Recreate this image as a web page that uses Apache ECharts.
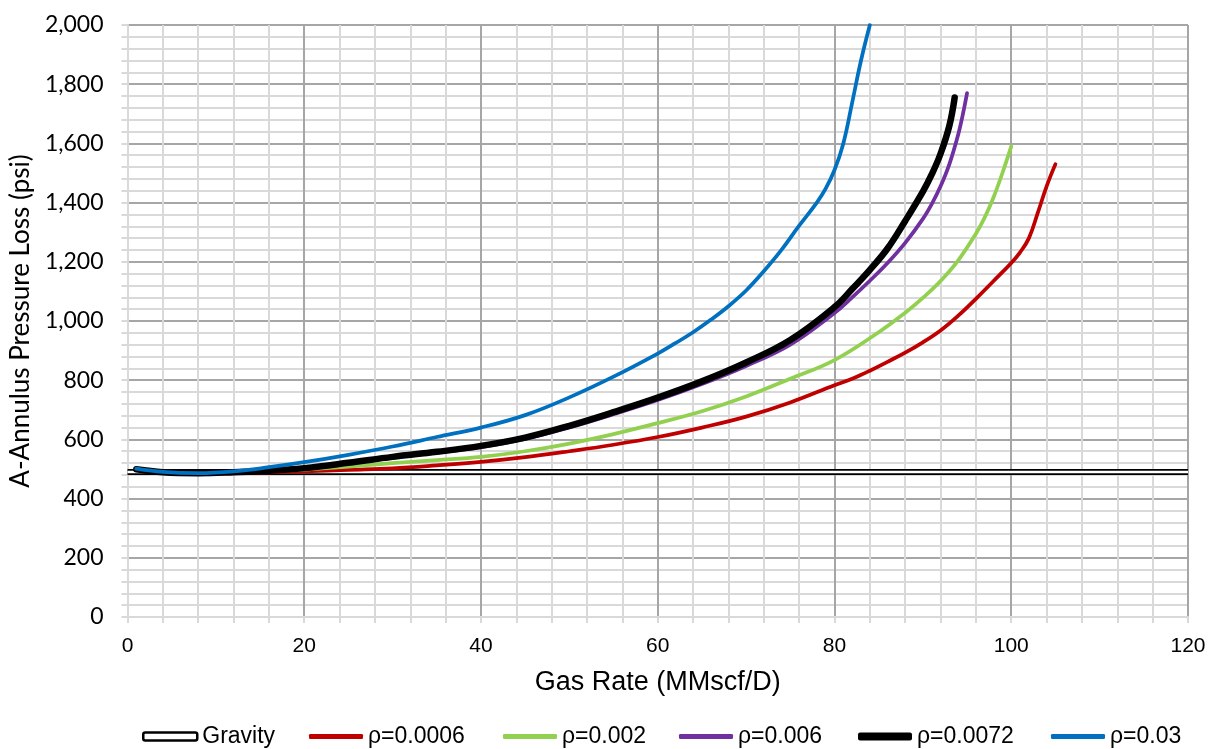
<!DOCTYPE html>
<html>
<head>
<meta charset="utf-8">
<script src="https://cdn.jsdelivr.net/npm/echarts@6/dist/echarts.min.js"></script>
<style>
  html, body { margin: 0; padding: 0; background: #ffffff; }
  #chart { width: 1209px; height: 749px; }
</style>
</head>
<body>
<div id="chart"></div>
<script>
// Axis ticks
const rateTicks = [0, 20, 40, 60, 80, 100, 120];
const lossTicks = [0, 200, 400, 600, 800, 1000, 1200, 1400, 1600, 1800, 2000];

// Gravity-only pressure loss (flat)
const gravityRate = [0, 120];
const gravityLoss = [490, 490];

// ρ = 0.0006
const rate0006 = [1, 4, 8, 12, 16, 20, 25, 30, 35, 40, 45, 50, 55, 60, 65, 70, 75, 80, 82, 84, 86, 88, 90, 92, 94, 96, 98, 100, 101, 102, 103, 104, 105];
const loss0006 = [498, 489, 486, 487, 489, 492, 497, 502, 512, 524, 540, 560, 582, 608, 640, 677, 725, 783, 805, 832, 862, 893, 928, 968, 1018, 1075, 1135, 1196, 1232, 1280, 1365, 1455, 1530];

// ρ = 0.002
const rate002 = [1, 4, 8, 12, 16, 20, 25, 30, 35, 40, 45, 50, 55, 60, 65, 70, 75, 80, 85, 88, 90, 92, 94, 96, 97, 98, 99, 100];
const loss002 = [498, 489, 486, 488, 492, 498, 508, 520, 530, 541, 560, 586, 618, 655, 695, 745, 805, 868, 962, 1028, 1078, 1135, 1205, 1295, 1350, 1418, 1500, 1590];

// ρ = 0.006
const rate006 = [1, 4, 8, 12, 16, 20, 25, 30, 35, 40, 45, 50, 55, 60, 65, 70, 75, 80, 82, 84, 86, 88, 90, 91, 92, 93, 94, 94.5, 95];
const loss006 = [498, 489, 486, 489, 494, 502, 519, 538, 555, 574, 602, 640, 685, 733, 787, 848, 920, 1027, 1080, 1136, 1196, 1264, 1345, 1395, 1455, 1530, 1630, 1695, 1770];

// ρ = 0.0072
const rate0072 = [1, 4, 8, 12, 16, 20, 25, 30, 35, 40, 45, 50, 55, 60, 65, 70, 75, 80, 82, 84, 86, 88, 90, 91, 92, 93, 93.6];
const loss0072 = [499, 489, 486, 489, 494, 503, 521, 541, 558, 578, 606, 646, 692, 741, 796, 860, 936, 1047, 1108, 1173, 1245, 1338, 1437, 1495, 1565, 1660, 1755];

// ρ = 0.03
const rate03 = [1, 4, 8, 12, 16, 20, 25, 30, 35, 40, 45, 50, 55, 60, 62, 64, 66, 68, 70, 72, 74, 76, 78, 79, 80, 81, 82, 83, 84];
const loss03 = [501, 490, 486, 492, 506, 523, 548, 576, 608, 640, 682, 742, 812, 890, 925, 962, 1004, 1050, 1103, 1168, 1240, 1322, 1400, 1447, 1510, 1600, 1738, 1880, 2000];

const colRed = '#C00000', colGreen = '#92D050', colPurple = '#7030A0', colBlack = '#000000', colBlue = '#0070C0';

function pairs(xs, ys) { return xs.map((x, i) => [x, ys[i]]); }

const chart = echarts.init(document.getElementById('chart'), null, { renderer: 'canvas' });

// first grid line sits on the axis and stays light, the rest are darker
const majorGridX = rateTicks.map((v, i) => i === 0 ? '#d9d9d9' : '#a6a6a6');
const majorGridY = lossTicks.map((v, i) => i === 0 ? '#d9d9d9' : '#a6a6a6');

function curve(name, xs, ys, color, width) {
  return {
    name: name, type: 'line', data: pairs(xs, ys),
    showSymbol: false, symbol: 'none', smooth: 0.4,
    lineStyle: { color: color, width: width, cap: 'round', join: 'round' },
    itemStyle: { color: color }
  };
}

function legendAt(left, name, icon, height, style) {
  return {
    left: left, top: 725, padding: 0, itemWidth: 54, itemHeight: height, selectedMode: false,
    textStyle: { fontFamily: 'Liberation Sans', fontSize: 23, color: '#000' },
    data: [{ name: name, icon: icon, itemStyle: style }]
  };
}

chart.setOption({
  animation: false,
  backgroundColor: '#ffffff',
  grid: { left: 126, right: 21, top: 25, bottom: 132, containLabel: false },
  xAxis: {
    type: 'value', min: 0, max: 120, interval: 20,
    name: 'Gas Rate (MMscf/D)', nameLocation: 'middle', nameGap: 52,
    nameTextStyle: { fontFamily: 'Liberation Sans', fontSize: 27, color: '#000' },
    axisLine: { show: true, lineStyle: { color: '#d9d9d9', width: 2 } },
    axisTick: { show: true, length: 6, lineStyle: { color: '#d9d9d9', width: 2 } },
    minorTick: { show: true, splitNumber: 5, length: 6, lineStyle: { color: '#d9d9d9', width: 2 } },
    axisLabel: { fontFamily: 'Liberation Sans', fontSize: 21, color: '#000', margin: 19 },
    splitLine: { show: true, lineStyle: { color: majorGridX, width: 2 } },
    minorSplitLine: { show: true, lineStyle: { color: '#d9d9d9', width: 2 } }
  },
  yAxis: {
    type: 'value', min: 0, max: 2000, interval: 200,
    name: 'A-Annulus Pressure Loss (psi)', nameLocation: 'middle', nameGap: 92, nameRotate: 90,
    nameTextStyle: { fontFamily: 'Lato', fontSize: 26, color: '#000' },
    axisLine: { show: true, lineStyle: { color: '#d9d9d9', width: 2 } },
    axisTick: { show: true, length: 6, lineStyle: { color: '#d9d9d9', width: 2 } },
    minorTick: { show: true, splitNumber: 5, length: 6, lineStyle: { color: '#d9d9d9', width: 2 } },
    axisLabel: {
      fontFamily: 'Lato', fontSize: 23, color: '#000', margin: 24,
      formatter: v => v.toLocaleString('en-US')
    },
    splitLine: { show: true, lineStyle: { color: majorGridY, width: 2 } },
    minorSplitLine: { show: true, lineStyle: { color: '#d9d9d9', width: 2 } }
  },
  legend: [
    legendAt(142, 'Gravity', 'roundRect', 8, { color: '#ffffff', borderColor: '#000000', borderWidth: 2.5 }),
    legendAt(309, 'ρ=0.0006', 'roundRect', 5, { color: colRed }),
    legendAt(503, 'ρ=0.002', 'roundRect', 5, { color: colGreen }),
    legendAt(679, 'ρ=0.006', 'roundRect', 5, { color: colPurple }),
    legendAt(858, 'ρ=0.0072', 'roundRect', 8, { color: colBlack }),
    legendAt(1051, 'ρ=0.03', 'roundRect', 5, { color: colBlue })
  ],
  series: [
    {
      name: 'Gravity', type: 'line', data: pairs(gravityRate, gravityLoss),
      showSymbol: false, symbol: 'none',
      lineStyle: { color: '#000000', width: 6 }, itemStyle: { color: '#000000' }
    },
    {
      name: 'Gravity inner', type: 'line', data: pairs(gravityRate, gravityLoss),
      showSymbol: false, symbol: 'none', silent: true,
      lineStyle: { color: '#ffffff', width: 2.5 }, itemStyle: { color: '#ffffff' }
    },
    curve('ρ=0.0006', rate0006, loss0006, colRed, 3.75),
    curve('ρ=0.002', rate002, loss002, colGreen, 3.75),
    curve('ρ=0.006', rate006, loss006, colPurple, 3.75),
    curve('ρ=0.0072', rate0072, loss0072, colBlack, 6.5),
    curve('ρ=0.03', rate03, loss03, colBlue, 3.75)
  ]
});
</script>
</body>
</html>
